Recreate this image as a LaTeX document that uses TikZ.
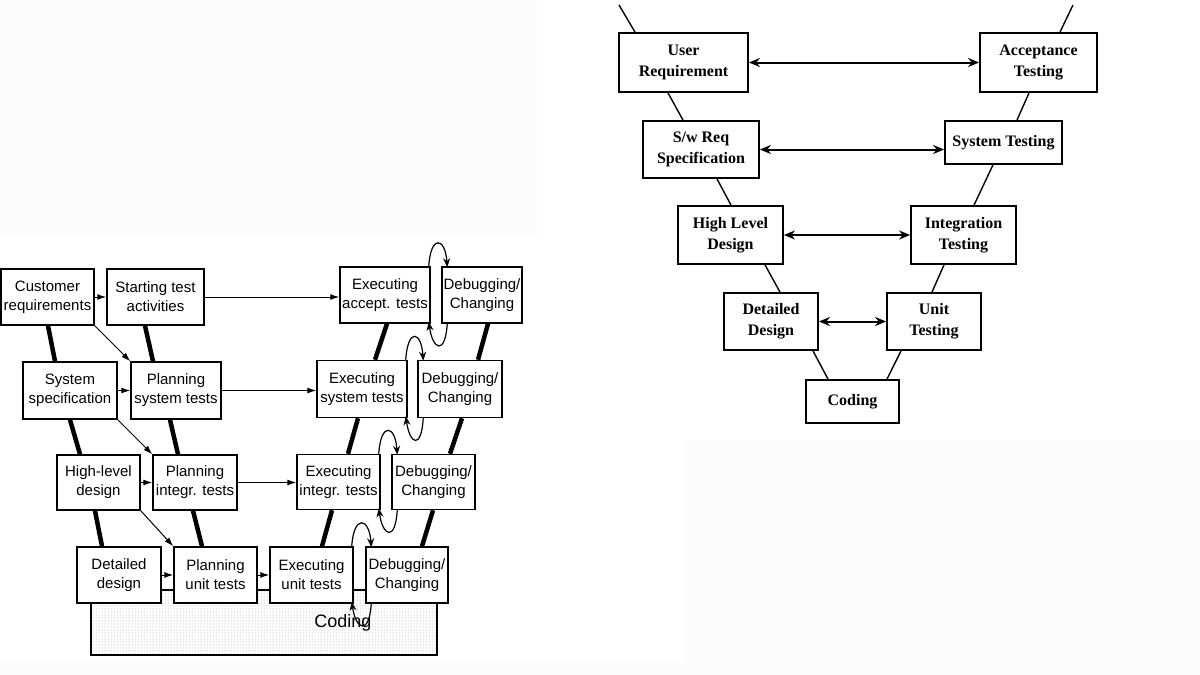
\documentclass[tikz,border=0pt]{standalone}
\usepackage{fontspec}
\setmainfont{Liberation Sans}
\newfontfamily\vserif{Liberation Serif}
\usetikzlibrary{arrows.meta,patterns}
\definecolor{panel}{RGB}{250,252,253}
\begin{document}
\begin{tikzpicture}[x=1pt,y=-1pt,
    box/.style={draw, line width=1.5pt, fill=white, align=center, inner sep=0pt, font=\fontsize{15}{19}\selectfont},
    vbox/.style={draw, line width=1.8pt, fill=white, align=center, inner sep=0pt, font=\vserif\bfseries\fontsize{16}{21}\selectfont},
    flow/.style={-{Latex[length=9pt,width=6pt]}, line width=1pt},
    stage/.style={line width=4.5pt},
    loop/.style={-{Stealth[length=9pt,width=7pt]}, line width=1.2pt},
    link/.style={line width=1.4pt},
    trace/.style={{Stealth[length=11pt,width=9pt]}-{Stealth[length=11pt,width=9pt]}, line width=2pt}]
    \useasboundingbox (0,0) rectangle (1200,675);
    % background panels
    \fill[panel] (0,0) rectangle (537,237);
    \fill[panel] (685,440) rectangle (1200,675);
    \fill[panel] (0,662) rectangle (685,675);

    % Coding base
    \node (cod) [draw, line width=1.5pt, pattern=dots, pattern color=gray!80, minimum width=346, minimum height=65, inner sep=0pt] at (264,622.5) {};
    \node (codt) at (343,623) {\fontsize{18}{20}\selectfont Coding};

    % left V, row 1
    \node (cr) [box, minimum width=93, minimum height=56] at (47.5,297) {Customer\\requirements};
    \node (st) [box, minimum width=97, minimum height=56] at (155.5,297) {Starting test\\activities};
    \node (ea) [box, minimum width=90, minimum height=56] at (385,295) {Executing\\accept. tests};
    \node (d1) [box, minimum width=80, minimum height=56] at (482,295) {Debugging/\\Changing};
    % row 2
    \node (ss) [box, minimum width=94, minimum height=57] at (70,390.5) {System\\specification};
    \node (ps) [box, minimum width=90, minimum height=57] at (176,390.5) {Planning\\system tests};
    \node (es) [box, minimum width=90, minimum height=57] at (362,389) {Executing\\system tests};
    \node (d2) [box, minimum width=84, minimum height=57] at (460,389) {Debugging/\\Changing};
    % row 3
    \node (hl) [box, minimum width=83, minimum height=55] at (98.5,482.5) {High-level\\design};
    \node (pi) [box, minimum width=84, minimum height=55] at (195,482.5) {Planning\\integr. tests};
    \node (ei) [box, minimum width=83, minimum height=55] at (338.5,482) {Executing\\integr. tests};
    \node (d3) [box, minimum width=83, minimum height=55] at (433.5,482) {Debugging/\\Changing};
    % row 4
    \node (dd) [box, minimum width=84, minimum height=56] at (119,575) {Detailed\\design};
    \node (pu) [box, minimum width=83, minimum height=56] at (215.5,575) {Planning\\unit tests};
    \node (eu) [box, minimum width=83, minimum height=56] at (311.5,575) {Executing\\unit tests};
    \node (d4) [box, minimum width=82, minimum height=56] at (407,575) {Debugging/\\Changing};

    % thick stage lines
    \draw[stage] ([xshift=0.5]cr.south) -- ([xshift=-15]ss.north);
    \draw[stage] ([xshift=0]ss.south) -- ([xshift=-18.5]hl.north);
    \draw[stage] ([xshift=-3.5]hl.south) -- ([xshift=-17]dd.north);
    \draw[stage] ([xshift=-10.5]st.south) -- ([xshift=-23]ps.north);
    \draw[stage] ([xshift=-6]ps.south) -- ([xshift=-17]pi.north);
    \draw[stage] ([xshift=-2]pi.south) -- ([xshift=-13.5]pu.north);
    \draw[stage] ([xshift=2]ea.south) -- ([xshift=13]es.north);
    \draw[stage] ([xshift=-4]es.south) -- ([xshift=9.5]ei.north);
    \draw[stage] ([xshift=-6.5]ei.south) -- ([xshift=10.5]eu.north);
    \draw[stage] ([xshift=6]d1.south) -- ([xshift=18]d2.north);
    \draw[stage] ([xshift=2]d2.south) -- ([xshift=16.5]d3.north);
    \draw[stage] ([xshift=-0.5]d3.south) -- ([xshift=15]d4.north);

    % horizontal flows
    \draw[flow] (cr.east) -- (st.west);
    \draw[flow] (st.east) -- (ea.west|-st.east);
    \draw[flow] (ss.east) -- (ps.west);
    \draw[flow] (ps.east) -- (es.west|-ps.east);
    \draw[flow] (hl.east) -- (pi.west);
    \draw[flow] (pi.east) -- (ei.west|-pi.east);
    \draw[flow] (dd.east) -- (pu.west);
    \draw[flow] (pu.east) -- (eu.west);
    % diagonal flows
    \draw[flow] (cr.south east) -- (ps.north west);
    \draw[flow] (ss.south east) -- (pi.north west);
    \draw[flow] (hl.south east) -- (pu.north west);

    % debugging loops
    \foreach \e/\d in {ea/d1, es/d2, ei/d3, eu/d4} {
      \draw[loop] ([xshift=-2]\e.north east) .. controls +(2,-32) and +(-2,-30) .. ([xshift=6,yshift=-1]\d.north west);
      \draw[loop] ([xshift=6]\d.south west) .. controls +(-2,32) and +(4,28) .. ([xshift=-2,yshift=2]\e.south east);
    }

    % right V
    \node (ur) [vbox, minimum width=129, minimum height=59] at (683.5,62.5) {User\\Requirement};
    \node (at) [vbox, minimum width=117, minimum height=59] at (1038.5,62.5) {Acceptance\\Testing};
    \node (sr) [vbox, minimum width=116, minimum height=57] at (701,149.5) {S/w Req\\Specification};
    \node (sy) [vbox, minimum width=117, minimum height=43] at (1003.5,142.5) {System Testing};
    \node (hd) [vbox, minimum width=105, minimum height=58] at (730.5,235) {High Level\\Design};
    \node (it) [vbox, minimum width=105, minimum height=58] at (963.5,235) {Integration\\Testing};
    \node (de) [vbox, minimum width=94, minimum height=57] at (771,321.5) {Detailed\\Design};
    \node (ut) [vbox, minimum width=94, minimum height=57] at (934,321.5) {Unit\\Testing};
    \node (co) [vbox, minimum width=93, minimum height=43] at (852.5,401.5) {Coding};
    \coordinate (tl) at (619,5);
    \coordinate (tr) at (1073,5);

    \draw[link] (tl) -- ([xshift=-48.5]ur.north);
    \draw[link] (tr) -- ([xshift=21.5]at.north);
    \draw[link] ([xshift=-15.5]ur.south) -- ([xshift=-18]sr.north);
    \draw[link] ([xshift=-9.5]at.south) -- ([xshift=13.5]sy.north);
    \draw[link] ([xshift=16]sr.south) -- ([xshift=0.5]hd.north);
    \draw[link] ([xshift=-10.5]sy.south) -- ([xshift=10.5]it.north);
    \draw[link] ([xshift=34.5]hd.south) -- ([xshift=9]de.north);
    \draw[link] ([xshift=-19.5]it.south) -- ([xshift=-2]ut.north);
    \draw[link] ([xshift=42]de.south) -- ([xshift=-24.5]co.north);
    \draw[link] ([xshift=-33]ut.south) -- ([xshift=34.5]co.north);

    \draw[trace] (ur.east) -- (at.west);
    \draw[trace] (sr.east) -- (sy.west|-sr.east);
    \draw[trace] (hd.east) -- (it.west);
    \draw[trace] (de.east) -- (ut.west);
\end{tikzpicture}
\end{document}
